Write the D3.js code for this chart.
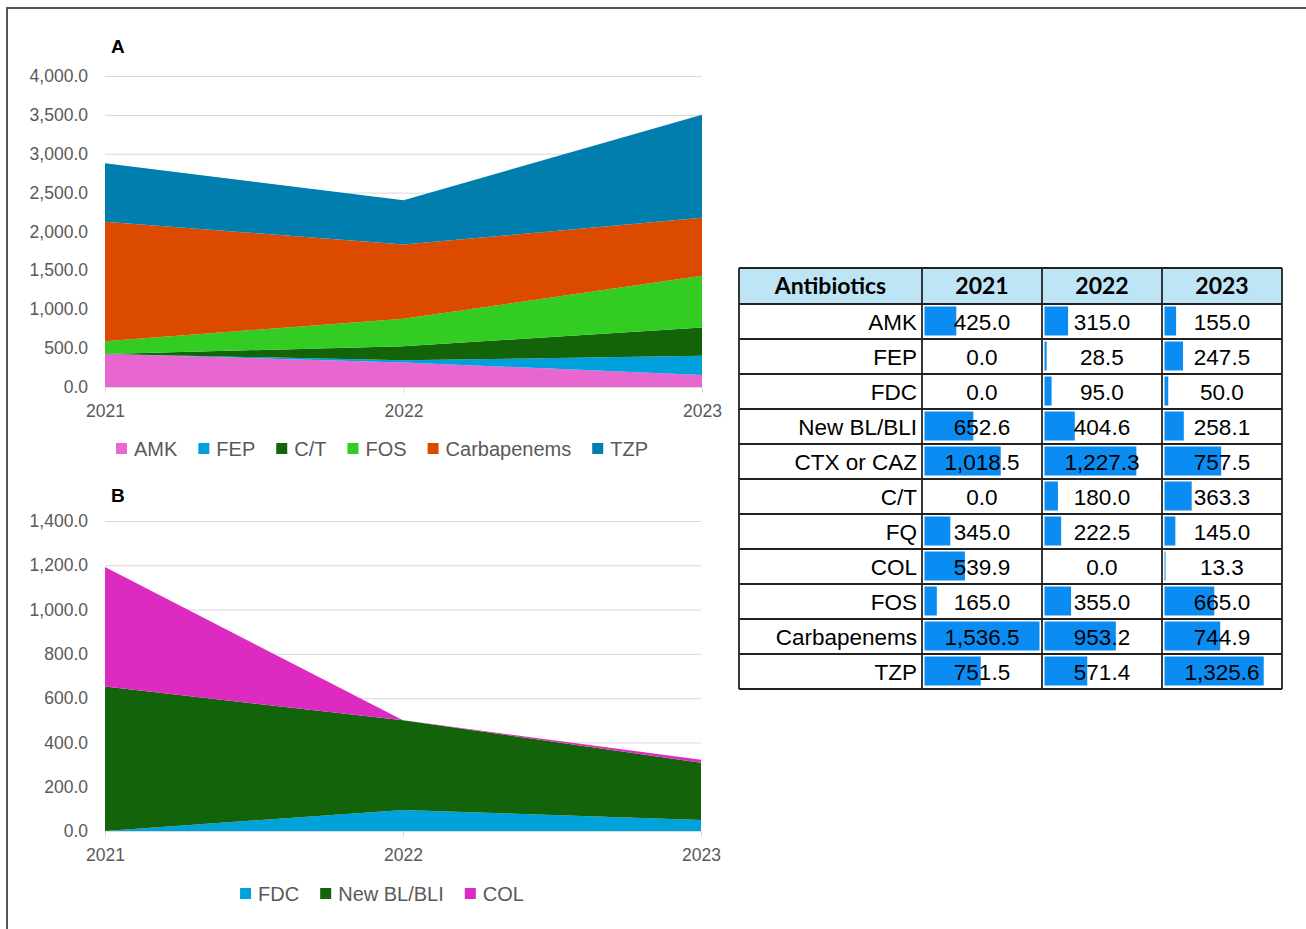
<!DOCTYPE html>
<html>
<head>
<meta charset="utf-8">
<script src="https://cdn.jsdelivr.net/npm/d3@7"></script>
<style>
  body { margin: 0; background: #fff; }
  svg { display: block; font-family: "Liberation Sans", Arial, sans-serif; }
</style>
</head>
<body>
<div id="chart"></div>
<script>
// data
var years = ["2021", "2022", "2023"];
var antibiotics = ["AMK", "FEP", "FDC", "New BL/BLI", "CTX or CAZ", "C/T", "FQ", "COL", "FOS", "Carbapenems", "TZP"];
var v2021 = [425.0, 0.0, 0.0, 652.6, 1018.5, 0.0, 345.0, 539.9, 165.0, 1536.5, 751.5];
var v2022 = [315.0, 28.5, 95.0, 404.6, 1227.3, 180.0, 222.5, 0.0, 355.0, 953.2, 571.4];
var v2023 = [155.0, 247.5, 50.0, 258.1, 757.5, 363.3, 145.0, 13.3, 665.0, 744.9, 1325.6];

var seriesA = ["AMK", "FEP", "C/T", "FOS", "Carbapenems", "TZP"];
var seriesB = ["FDC", "New BL/BLI", "COL"];
var ticksA = [0, 500, 1000, 1500, 2000, 2500, 3000, 3500, 4000];
var ticksB = [0, 200, 400, 600, 800, 1000, 1200, 1400];

var colorsA = ["#E866D0", "#00A0DC", "#136309", "#33CC22", "#DC4A00", "#007EAE"];
var colorsB = ["#00A2DA", "#13630B", "#DD2BC1"];

var byYear = [v2021, v2022, v2023];
var fmt = d3.format(",.1f");

var W = 1306, H = 929;
var svg = d3.select("#chart").append("svg")
    .attr("width", W)
    .attr("height", H);

// outer frame
svg.append("rect")
    .attr("x", 7).attr("y", 8)
    .attr("width", W + 20).attr("height", H + 20)
    .attr("fill", "none")
    .attr("stroke", "#555")
    .attr("stroke-width", 2);

function rowsFor(keys) {
    return years.map(function(y, i) {
        var r = { year: y };
        keys.forEach(function(k) {
            r[k] = byYear[i][antibiotics.indexOf(k)];
        });
        return r;
    });
}

function drawChart(o) {
    var x = d3.scalePoint().domain(years).range([o.left, o.right]);
    var y = d3.scaleLinear().domain([0, o.ticks[o.ticks.length - 1]]).range([o.bottom, o.top]);
    var g = svg.append("g");

    // gridlines + y labels
    var yAxis = d3.axisLeft(y)
        .tickValues(o.ticks)
        .tickSize(-(o.right - o.left))
        .tickPadding(17)
        .tickFormat(fmt);
    var ya = g.append("g")
        .attr("transform", "translate(" + o.left + ",0)")
        .call(yAxis);
    ya.select(".domain").remove();
    ya.selectAll(".tick line").attr("stroke", "#D9D9D9").attr("stroke-width", 1);
    ya.selectAll(".tick text")
        .attr("fill", "#595959")
        .attr("font-size", "17.5px")
        .attr("font-family", "Liberation Sans, Arial, sans-serif");

    // stacked areas
    var data = rowsFor(o.keys);
    var stack = d3.stack().keys(o.keys)(data);
    var area = d3.area()
        .x(function(d) { return x(d.data.year); })
        .y0(function(d) { return y(d[0]); })
        .y1(function(d) { return y(d[1]); });
    g.selectAll("path.area")
        .data(stack)
        .enter()
        .append("path")
        .attr("class", "area")
        .attr("d", area)
        .attr("fill", function(d, i) { return o.colors[i]; });

    // x axis
    var xa = g.append("g")
        .attr("transform", "translate(0," + o.bottom + ")")
        .call(d3.axisBottom(x).tickSize(6).tickSizeOuter(0).tickPadding(12));
    xa.select(".domain").attr("stroke", "#D9D9D9");
    xa.selectAll(".tick line").attr("stroke", "#D9D9D9");
    xa.selectAll(".tick text")
        .attr("fill", "#595959")
        .attr("font-size", "17.5px")
        .attr("font-family", "Liberation Sans, Arial, sans-serif");

    // panel letter
    g.append("text")
        .attr("x", 111).attr("y", o.labelY)
        .attr("font-size", "19px")
        .attr("font-weight", "bold")
        .attr("fill", "#000")
        .text(o.label);

    // legend, centred
    var lg = g.append("g");
    var items = lg.selectAll("g.item")
        .data(o.keys)
        .enter()
        .append("g")
        .attr("class", "item");
    items.append("rect")
        .attr("width", 11).attr("height", 11)
        .attr("y", -6)
        .attr("fill", function(d, i) { return o.colors[i]; });
    items.append("text")
        .attr("x", 18)
        .attr("dy", "0.35em")
        .attr("font-size", "20px")
        .attr("fill", "#595959")
        .text(function(d) { return d; });
    var cx = 0;
    items.each(function() {
        var t = d3.select(this).select("text").node().getComputedTextLength();
        d3.select(this).attr("transform", "translate(" + cx + ",0)");
        cx += 18 + t + 21;
    });
    var total = cx - 21;
    lg.attr("transform", "translate(" + (382 - total / 2) + "," + o.legendY + ")");
}

drawChart({ keys: seriesA, colors: colorsA, ticks: ticksA, label: "A", labelY: 53,
    left: 105, right: 702, top: 76, bottom: 387, legendY: 449 });
drawChart({ keys: seriesB, colors: colorsB, ticks: ticksB, label: "B", labelY: 502,
    left: 105, right: 701, top: 521, bottom: 831, legendY: 894 });

// table with data bars
var colX = [739, 922, 1042, 1162, 1282];
var headTop = 268, headH = 36, rowH = 35;
var rowY = d3.scaleBand()
    .domain(antibiotics)
    .range([headTop + headH, headTop + headH + rowH * antibiotics.length]);
var allVals = v2021.concat(v2022, v2023);
var colW = colX[2] - colX[1];
var barX = d3.scaleLinear().domain([0, d3.max(allVals)]).range([0, colW - 5]);

var tg = svg.append("g");
var headers = ["Antibiotics"].concat(years);

// header
tg.selectAll("rect.head")
    .data(headers)
    .enter()
    .append("rect")
    .attr("class", "head")
    .attr("x", function(d, i) { return colX[i]; })
    .attr("y", headTop)
    .attr("width", function(d, i) { return colX[i + 1] - colX[i]; })
    .attr("height", headH)
    .attr("fill", "#BDE5F5");
tg.selectAll("text.head")
    .data(headers)
    .enter()
    .append("text")
    .attr("class", "head")
    .attr("x", function(d, i) { return (colX[i] + colX[i + 1]) / 2; })
    .attr("y", headTop + headH / 2)
    .attr("dy", "0.36em")
    .attr("text-anchor", "middle")
    .attr("font-family", "Lato, 'Liberation Sans', sans-serif")
    .attr("font-weight", "bold")
    .attr("font-size", "23px")
    .attr("fill", "#000")
    .text(function(d) { return d; });

// body
var rows = tg.selectAll("g.row")
    .data(antibiotics)
    .enter()
    .append("g")
    .attr("class", "row")
    .attr("transform", function(d) { return "translate(0," + rowY(d) + ")"; });

rows.append("text")
    .attr("x", colX[1] - 5)
    .attr("y", rowY.bandwidth() / 2)
    .attr("dy", "0.36em")
    .attr("text-anchor", "end")
    .attr("font-size", "22.5px")
    .attr("fill", "#000")
    .text(function(d) { return d; });

years.forEach(function(yr, j) {
    var vals = byYear[j];
    rows.append("rect")
        .attr("x", colX[j + 1] + 2.5)
        .attr("y", 2.5)
        .attr("width", function(d, i) { return barX(vals[i]); })
        .attr("height", rowY.bandwidth() - 6)
        .attr("fill", "#0B8CF2");
    rows.append("text")
        .attr("x", (colX[j + 1] + colX[j + 2]) / 2)
        .attr("y", rowY.bandwidth() / 2)
        .attr("dy", "0.36em")
        .attr("text-anchor", "middle")
        .attr("font-size", "22.5px")
        .attr("fill", "#000")
        .text(function(d, i) { return fmt(vals[i]); });
});

// grid lines of the table
var tableBottom = headTop + headH + rowH * antibiotics.length;
var hLines = [headTop, headTop + headH].concat(antibiotics.map(function(d) { return rowY(d) + rowH; }));
tg.selectAll("line.h")
    .data(hLines)
    .enter()
    .append("line")
    .attr("x1", colX[0]).attr("x2", colX[4])
    .attr("y1", function(d) { return d; })
    .attr("y2", function(d) { return d; })
    .attr("stroke", "#222")
    .attr("stroke-width", 1.8);
tg.selectAll("line.v")
    .data(colX)
    .enter()
    .append("line")
    .attr("x1", function(d) { return d; })
    .attr("x2", function(d) { return d; })
    .attr("y1", headTop).attr("y2", tableBottom)
    .attr("stroke", "#222")
    .attr("stroke-width", 1.8);
</script>
</body>
</html>
